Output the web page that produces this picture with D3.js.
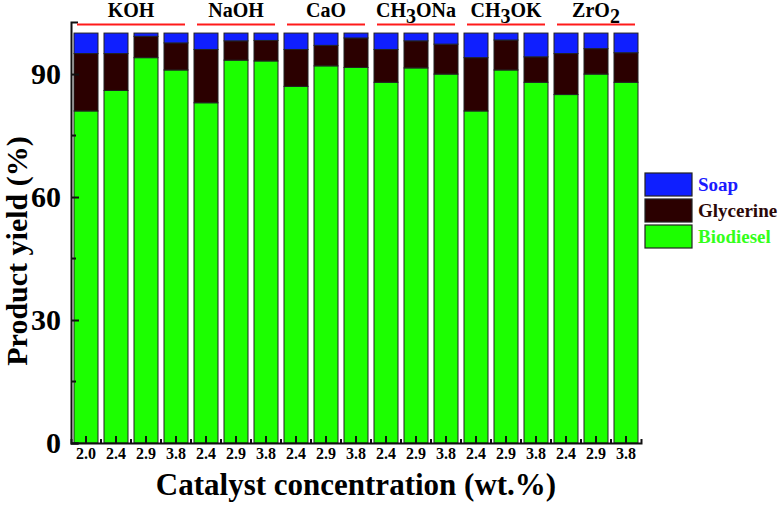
<!DOCTYPE html>
<html>
<head>
<meta charset="utf-8">
<script src="https://cdn.jsdelivr.net/npm/d3@7"></script>
<style>
  body { margin: 0; background: #fff; }
  text { font-family: "Liberation Serif", "Times New Roman", serif; font-weight: bold; }
</style>
</head>
<body>
<svg id="chart"></svg>
<script>
// Data
const catalysts = ["KOH", "NaOH", "CaO", "CH3ONa", "CH3OK", "ZrO2"];
const catalystOfBar = ["KOH", "KOH", "KOH", "KOH", "NaOH", "NaOH", "NaOH", "CaO", "CaO", "CaO",
                       "CH3ONa", "CH3ONa", "CH3ONa", "CH3OK", "CH3OK", "CH3OK", "ZrO2", "ZrO2", "ZrO2"];
const concLabels = ["2.0", "2.4", "2.9", "3.8", "2.4", "2.9", "3.8", "2.4", "2.9", "3.8",
                    "2.4", "2.9", "3.8", "2.4", "2.9", "3.8", "2.4", "2.9", "3.8"];
const biodiesel = [81, 86, 94, 91, 83, 93.4, 93.2, 87, 92, 91.6, 88, 91.5, 90, 81, 91, 88, 85, 90, 88];
const glycerine = [14, 9, 5.2, 6.6, 13, 4.7, 5, 9, 5, 7.2, 8, 6.6, 7.3, 13, 7.3, 6.2, 10, 6.2, 7.2];
const soap = [5, 5, 0.8, 2.4, 4, 1.9, 1.8, 4, 3, 1.2, 4, 1.9, 2.7, 6, 1.7, 5.8, 5, 3.8, 4.8];
const yTicks = [0, 30, 60, 90];
const yMinorTicks = [15, 45, 75];

const seriesKeys = ["biodiesel", "glycerine", "soap"];
const seriesNames = {biodiesel: "Biodiesel", glycerine: "Glycerine", soap: "Soap"};
const fills = {biodiesel: "#1cff00", glycerine: "#2b0000", soap: "#0f1fff"};
const textColors = {biodiesel: "#33ff1a", glycerine: "#2b0808", soap: "#1a1aff"};

const width = 779, height = 506;
const margin = {top: 22, right: 138, bottom: 63, left: 71};

const svg = d3.select("#chart")
    .attr("width", width)
    .attr("height", height);

// Build table for the stack
const table = concLabels.map((c, i) => ({
    id: i,
    biodiesel: biodiesel[i],
    glycerine: glycerine[i],
    soap: soap[i]
}));

const x = d3.scaleBand()
    .domain(d3.range(concLabels.length))
    .range([margin.left, width - margin.right])
    .paddingInner(0.2)
    .paddingOuter(0.1);

const y = d3.scaleLinear()
    .domain([0, 102.7])
    .range([height - margin.bottom, margin.top]);

const stacked = d3.stack().keys(seriesKeys)(table);

// Bars
svg.append("g").selectAll("g")
    .data(stacked)
    .join("g")
    .attr("fill", d => fills[d.key])
    .selectAll("rect")
    .data(d => d)
    .join("rect")
    .attr("x", d => x(d.data.id))
    .attr("y", d => y(d[1]))
    .attr("width", x.bandwidth())
    .attr("height", d => y(d[0]) - y(d[1]))
    .attr("stroke", "#222")
    .attr("stroke-width", 1);

// Y axis with inward ticks
const yAxis = svg.append("g")
    .attr("transform", `translate(${margin.left},0)`)
    .call(d3.axisLeft(y).tickValues(yTicks).tickSizeInner(-8).tickSizeOuter(-7).tickPadding(10));
yAxis.select(".domain").attr("stroke", "#111").attr("stroke-width", 2);
yAxis.selectAll(".tick line").attr("stroke", "#111").attr("stroke-width", 2);
yAxis.selectAll(".tick text")
    .style("font-size", "30px")
    .attr("fill", "#000");

svg.append("g").selectAll("line")
    .data(yMinorTicks)
    .join("line")
    .attr("x1", margin.left)
    .attr("x2", margin.left + 5)
    .attr("y1", d => y(d))
    .attr("y2", d => y(d))
    .attr("stroke", "#111")
    .attr("stroke-width", 2);

// X axis with inward ticks
const xAxis = svg.append("g")
    .attr("transform", `translate(0,${height - margin.bottom})`)
    .call(d3.axisBottom(x).tickFormat(i => concLabels[i]).tickSizeInner(-7).tickSizeOuter(-4).tickPadding(5));
xAxis.select(".domain").attr("stroke", "#111").attr("stroke-width", 2);
xAxis.selectAll(".tick line").attr("stroke", "#111").attr("stroke-width", 2);
xAxis.selectAll(".tick text")
    .style("font-size", "16px")
    .attr("fill", "#000");

// minor ticks between bars
svg.append("g").selectAll("line")
    .data(d3.range(1, concLabels.length))
    .join("line")
    .attr("x1", i => x(i) - x.step() * x.paddingInner() / 2)
    .attr("x2", i => x(i) - x.step() * x.paddingInner() / 2)
    .attr("y1", height - margin.bottom)
    .attr("y2", height - margin.bottom - 4)
    .attr("stroke", "#111")
    .attr("stroke-width", 2);

// Catalyst group labels with red underline (digits as subscripts)
function writeChem(sel, name) {
    let shift = 0;
    name.split(/(\d)/).filter(s => s).forEach(part => {
        const sub = /\d/.test(part);
        const dy = (sub ? 6 : 0) - shift;
        const ts = sel.append("tspan").text(part);
        if (dy !== 0) ts.attr("dy", dy);
        shift = sub ? 6 : 0;
    });
}

catalysts.forEach(cat => {
    const idx = d3.range(catalystOfBar.length).filter(i => catalystOfBar[i] === cat);
    const x0 = x(idx[0]);
    const x1 = x(idx[idx.length - 1]) + x.bandwidth();

    svg.append("line")
        .attr("x1", x0 + 3)
        .attr("x2", x1 - 3)
        .attr("y1", 24.5)
        .attr("y2", 24.5)
        .attr("stroke", "#ff1a1a")
        .attr("stroke-width", 2);

    const t = svg.append("text")
        .attr("x", (x0 + x1) / 2)
        .attr("y", 17)
        .attr("text-anchor", "middle")
        .style("font-size", "20px")
        .attr("fill", "#000");
    writeChem(t, cat);
});

// Legend
const legendKeys = seriesKeys.slice().reverse();
const legend = svg.append("g")
    .attr("transform", "translate(645,173)");
legendKeys.forEach((k, i) => {
    legend.append("rect")
        .attr("x", 0)
        .attr("y", i * 26)
        .attr("width", 47)
        .attr("height", 23)
        .attr("fill", fills[k])
        .attr("stroke", "#222")
        .attr("stroke-width", 1.2);
    legend.append("text")
        .attr("x", 53)
        .attr("y", i * 26 + 11.5)
        .attr("dy", "0.35em")
        .style("font-size", "19px")
        .attr("fill", textColors[k])
        .text(seriesNames[k]);
});

// Axis titles
svg.append("text")
    .attr("x", (margin.left + width - margin.right) / 2)
    .attr("y", 495)
    .attr("text-anchor", "middle")
    .style("font-size", "31px")
    .attr("fill", "#000")
    .text("Catalyst concentration (wt.%)");

svg.append("text")
    .attr("transform", "translate(27,251) rotate(-90)")
    .attr("text-anchor", "middle")
    .style("font-size", "30px")
    .attr("fill", "#000")
    .text("Product yield (%)");
</script>
</body>
</html>
